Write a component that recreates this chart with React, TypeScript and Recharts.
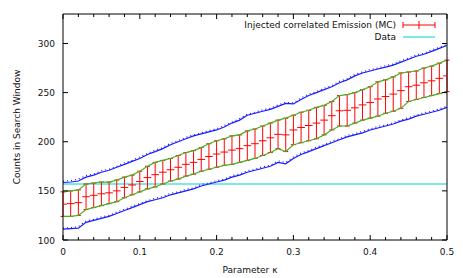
import React from 'react';
import { ComposedChart, Line, Scatter, ErrorBar, XAxis, YAxis } from 'recharts';

// kappa grid (every 0.01)
const kappa = [
  0, 0.01, 0.02, 0.03, 0.04, 0.05, 0.06, 0.07, 0.08, 0.09,
  0.1, 0.11, 0.12, 0.13, 0.14, 0.15, 0.16, 0.17, 0.18, 0.19,
  0.2, 0.21, 0.22, 0.23, 0.24, 0.25, 0.26, 0.27, 0.28, 0.29,
  0.3, 0.31, 0.32, 0.33, 0.34, 0.35, 0.36, 0.37, 0.38, 0.39,
  0.4, 0.41, 0.42, 0.43, 0.44, 0.45, 0.46, 0.47, 0.48, 0.49, 0.5,
];

// injected correlated emission (MC): mean and 1 sigma ends
const mcMean = [
  136.5, 137, 138, 144, 145.5, 147, 148, 150, 153.5, 156,
  159.5, 163.5, 166.5, 169, 171.5, 174, 177, 179, 182, 185,
  187.5, 189.5, 191.5, 193, 196, 198, 201, 204, 207.5, 207,
  212, 214.5, 216.5, 219, 222, 226.5, 231.5, 232, 234.5, 237.5,
  240, 243.5, 246, 248.5, 252, 256, 257.5, 260, 262, 264.5, 267,
];
const mcUpper = [
  149, 150, 151, 157, 158, 159, 159, 161, 164, 166,
  170, 175, 179, 181, 183, 186, 189, 191, 194, 198,
  201, 203, 206, 207, 211, 213, 216, 219, 222, 224,
  227, 230, 232, 235, 237, 241, 247, 248, 250, 253,
  256, 261, 263, 266, 270, 271, 272, 275, 277, 280, 283,
];
const mcLower = [
  124, 124, 125, 131, 133, 135, 137, 139, 143, 146,
  149, 152, 154, 157, 160, 162, 165, 167, 170, 172,
  174, 176, 177, 179, 181, 183, 186, 189, 193, 190,
  197, 199, 201, 203, 207, 212, 216, 216, 219, 222,
  224, 226, 229, 231, 234, 241, 243, 245, 247, 249, 251,
];

// outer band (blue), solid and dotted
const bandUpper = [
  158.5, 159, 160, 164, 166, 169, 171, 174, 177, 180,
  183, 187, 190, 193, 197, 200, 203, 206, 208, 210,
  212, 215, 219, 222, 227, 229, 231, 233, 236, 239,
  238.5, 243, 247, 250, 253, 256, 260, 263, 267, 270,
  272, 274, 276, 278, 281, 284, 287, 289, 292, 295, 298,
];
const bandUpperAlt = [
  160, 160.5, 162, 165.5, 167, 170.5, 172, 175, 178.5, 181,
  184.5, 188, 191.5, 194, 198.5, 201, 204.5, 207, 209, 211.5,
  213, 216.5, 220, 223.5, 228, 230, 232.5, 234, 237.5, 240,
  239.5, 244.5, 248.5, 251, 254.5, 257, 261.5, 264, 268.5, 271,
  273.5, 275, 277.5, 279, 282.5, 285, 288.5, 290, 293.5, 296, 299,
];
const bandLower = [
  111, 111.5, 112, 118, 120, 122, 124, 127, 130, 133,
  136, 139, 141, 143, 146, 148, 150, 152, 155, 157,
  159, 161, 164, 166, 169, 171, 173, 175, 179, 177.5,
  183, 187, 190, 193, 196, 199, 202, 205, 207, 209,
  212, 214, 216, 218, 221, 223, 226, 228, 230, 232, 235,
];
const bandLowerAlt = [
  112, 112.5, 113.5, 119.5, 121, 123.5, 125, 128.5, 131, 134.5,
  137, 140, 142.5, 144, 147.5, 149, 151.5, 153, 156.5, 158,
  160.5, 162, 165.5, 167, 170.5, 172, 174.5, 176, 180.5, 179,
  184.5, 188.5, 191, 194.5, 197, 200.5, 203, 206.5, 208, 210.5,
  213, 215.5, 217, 219.5, 222, 224.5, 227, 229.5, 231, 233.5, 236,
];

const dataCounts = 157;
const kappaHalfBin = 0.005;

const xTicks = [
  0, 0.02, 0.04, 0.06, 0.08, 0.1, 0.12, 0.14, 0.16, 0.18, 0.2, 0.22, 0.24,
  0.26, 0.28, 0.3, 0.32, 0.34, 0.36, 0.38, 0.4, 0.42, 0.44, 0.46, 0.48, 0.5,
];
const xLabels = [0, 0.1, 0.2, 0.3, 0.4, 0.5];
const yTicks = [100, 150, 200, 250, 300];

const rows = kappa.map((k, i) => ({
  k,
  mean: mcMean[i],
  err: [mcMean[i] - mcLower[i], mcUpper[i] - mcMean[i]],
  up: mcUpper[i],
  lo: mcLower[i],
  bu: bandUpper[i],
  bua: bandUpperAlt[i],
  bl: bandLower[i],
  bla: bandLowerAlt[i],
  data: dataCounts,
}));

const W = 463;
const H = 278;
const FONT = 'DejaVu Sans';
const RED = '#ff0000';
const GREEN = '#46b42a';
const BLUE = '#1a1aff';
const CYAN = '#00d2c8';

const PLOT_LEFT = 63;
const PLOT_RIGHT = 447;
const X_MAX = 0.5;
const halfBinPx = (kappaHalfBin / X_MAX) * (PLOT_RIGHT - PLOT_LEFT);

const isMajor = (v: number) => xLabels.some((l) => Math.abs(l - v) < 1e-9);

const XTick = (props: any) => {
  const { x, y, payload, side } = props;
  const len = isMajor(payload.value) ? 5 : 3;
  const dir = side === 'bottom' ? -1 : 1;
  return (
    <g>
      <line x1={x} x2={x} y1={y} y2={y + dir * len} stroke="#000" />
      {side === 'bottom' && isMajor(payload.value) && (
        <text x={x} y={y + 15} textAnchor="middle" fontSize={9} fontFamily={FONT} fill="#111">
          {payload.value}
        </text>
      )}
    </g>
  );
};

const YTick = (props: any) => {
  const { x, y, payload, side } = props;
  const dir = side === 'left' ? 1 : -1;
  return (
    <g>
      <line x1={x} x2={x + dir * 5} y1={y} y2={y} stroke="#000" />
      {side === 'left' && (
        <text x={x - 8} y={y + 3.5} textAnchor="end" fontSize={9} fontFamily={FONT} fill="#111">
          {payload.value}
        </text>
      )}
    </g>
  );
};

// horizontal half of the MC cross: +/- half a kappa bin
const CrossBar = (props: any) => {
  const { cx, cy } = props;
  if (cx == null || cy == null) return <g />;
  return <line x1={cx - halfBinPx} x2={cx + halfBinPx} y1={cy} y2={cy} stroke={RED} strokeWidth={1} />;
};

const Legend = () => (
  <svg width={W} height={H} style={{ position: 'absolute', left: 0, top: 0, pointerEvents: 'none' }}>
    <g fontFamily={FONT} fontSize={9} fill="#111">
      <text x={396} y={28} textAnchor="end">Injected correlated Emission (MC)</text>
      <text x={396} y={40} textAnchor="end">Data</text>
      <text x={250} y={273} textAnchor="middle">Parameter κ</text>
      <text transform="translate(20,127) rotate(-90)" textAnchor="middle">Counts in Search Window</text>
    </g>
    <line x1={403} x2={435} y1={25} y2={25} stroke={RED} />
    <line x1={403} x2={403} y1={22} y2={28} stroke={RED} />
    <line x1={435} x2={435} y1={22} y2={28} stroke={RED} />
    <line x1={419} x2={419} y1={21} y2={29} stroke={RED} />
    <line x1={403} x2={435} y1={37} y2={37} stroke={CYAN} />
  </svg>
);

const App = () => {
  return (
    <div style={{ position: 'absolute', left: 0, top: 0, width: W, height: H, background: '#fff' }}>
      <ComposedChart
        width={W}
        height={H}
        data={rows}
        margin={{ top: 13, right: W - PLOT_RIGHT - 1, bottom: 0, left: 0 }}
        style={{ fontFamily: FONT }}
      >
        <XAxis
          dataKey="k"
          type="number"
          domain={[0, X_MAX]}
          ticks={xTicks}
          interval={0}
          height={38}
          tickSize={0}
          tickMargin={0}
          tickLine={false}
          axisLine={{ stroke: '#000' }}
          tick={(p: any) => <XTick {...p} side="bottom" />}
          allowDataOverflow
        />
        <XAxis
          xAxisId="top"
          dataKey="k"
          orientation="top"
          type="number"
          domain={[0, X_MAX]}
          ticks={xTicks}
          interval={0}
          height={1}
          tickSize={0}
          tickMargin={0}
          tickLine={false}
          axisLine={{ stroke: '#000' }}
          tick={(p: any) => <XTick {...p} side="top" />}
          allowDataOverflow
        />
        <YAxis
          type="number"
          domain={[100, 330]}
          ticks={yTicks}
          interval={0}
          width={PLOT_LEFT}
          tickSize={0}
          tickMargin={0}
          tickLine={false}
          axisLine={{ stroke: '#000' }}
          tick={(p: any) => <YTick {...p} side="left" />}
          allowDataOverflow
        />
        <YAxis
          yAxisId="right"
          orientation="right"
          type="number"
          domain={[100, 330]}
          ticks={yTicks}
          interval={0}
          width={1}
          tickSize={0}
          tickMargin={0}
          tickLine={false}
          axisLine={{ stroke: '#000' }}
          tick={(p: any) => <YTick {...p} side="right" />}
          allowDataOverflow
        />
        <Line xAxisId="top" yAxisId="right" dataKey="data" stroke={CYAN} strokeWidth={1.2} dot={false} isAnimationActive={false} />
        <Line dataKey="bua" stroke={BLUE} strokeWidth={1.2} strokeDasharray="1 3" dot={false} isAnimationActive={false} />
        <Line dataKey="bla" stroke={BLUE} strokeWidth={1.2} strokeDasharray="1 3" dot={false} isAnimationActive={false} />
        <Line dataKey="bu" stroke={BLUE} strokeWidth={1.2} dot={false} isAnimationActive={false} />
        <Line dataKey="bl" stroke={BLUE} strokeWidth={1.2} dot={false} isAnimationActive={false} />
        <Scatter dataKey="mean" shape={CrossBar} fill={RED} isAnimationActive={false}>
          <ErrorBar dataKey="err" direction="y" width={2.5} stroke={RED} strokeWidth={1} isAnimationActive={false} />
        </Scatter>
        <Line dataKey="up" stroke={GREEN} strokeWidth={1.2} dot={false} isAnimationActive={false} />
        <Line dataKey="lo" stroke={GREEN} strokeWidth={1.2} dot={false} isAnimationActive={false} />
      </ComposedChart>
      <Legend />
    </div>
  );
};

export default App;
